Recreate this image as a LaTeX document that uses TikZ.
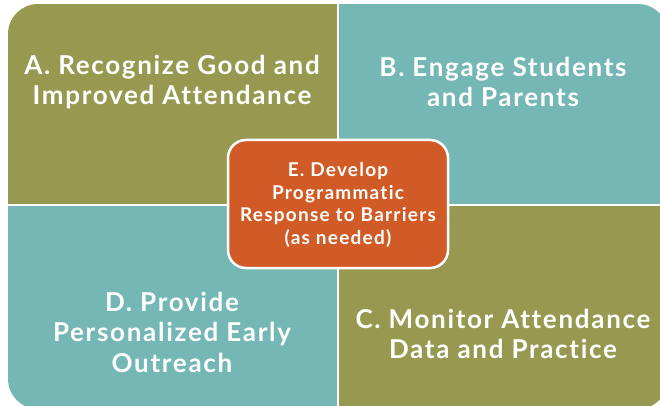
\documentclass[tikz,border=0pt]{standalone}
\usepackage{fontspec}
\setmainfont{Lato}[Ligatures={NoCommon}, LetterSpace=6.5]
\definecolor{olivebox}{RGB}{151,153,80}
\definecolor{tealbox}{RGB}{116,183,181}
\definecolor{orangebox}{RGB}{209,91,39}
\tikzset{
  quadtext/.style={text=white, font=\bfseries\fontsize{26}{30.5}\selectfont, align=center},
  centertext/.style={text=white, font=\bfseries\fontsize{19}{22.5}\selectfont, align=center},
}
\begin{document}
\begin{tikzpicture}[x=1pt,y=-1pt]
\useasboundingbox (0,0) rectangle (660,406);
\begin{scope}
  \clip (0,0) rectangle (660,406);
  \begin{scope}
    \clip[rounded corners=30pt] (8,4) rectangle (668,409);
    \fill[olivebox] (8,4) rectangle (337,204);
    \fill[tealbox] (339,4) rectangle (668,204);
    \fill[tealbox] (8,206) rectangle (337,409);
    \fill[olivebox] (339,206) rectangle (668,409);
  \end{scope}
\end{scope}
\node[quadtext] (a) at (172,82) {A. Recognize Good and\\Improved Attendance};
\node[quadtext] (b) at (503,82) {B. Engage Students\\and Parents};
\node[quadtext] (d) at (172,332) {D. Provide\\Personalized Early\\Outreach};
\node[quadtext] (c) at (503,334) {C. Monitor Attendance\\Data and Practice};
\draw[white, line width=2.5pt, fill=orangebox, rounded corners=18pt] (228,140) rectangle (448,268);
\node[centertext] (e) at (338,205) {E. Develop\\Programmatic\\Response to Barriers\\(as needed)};
\end{tikzpicture}
\end{document}
